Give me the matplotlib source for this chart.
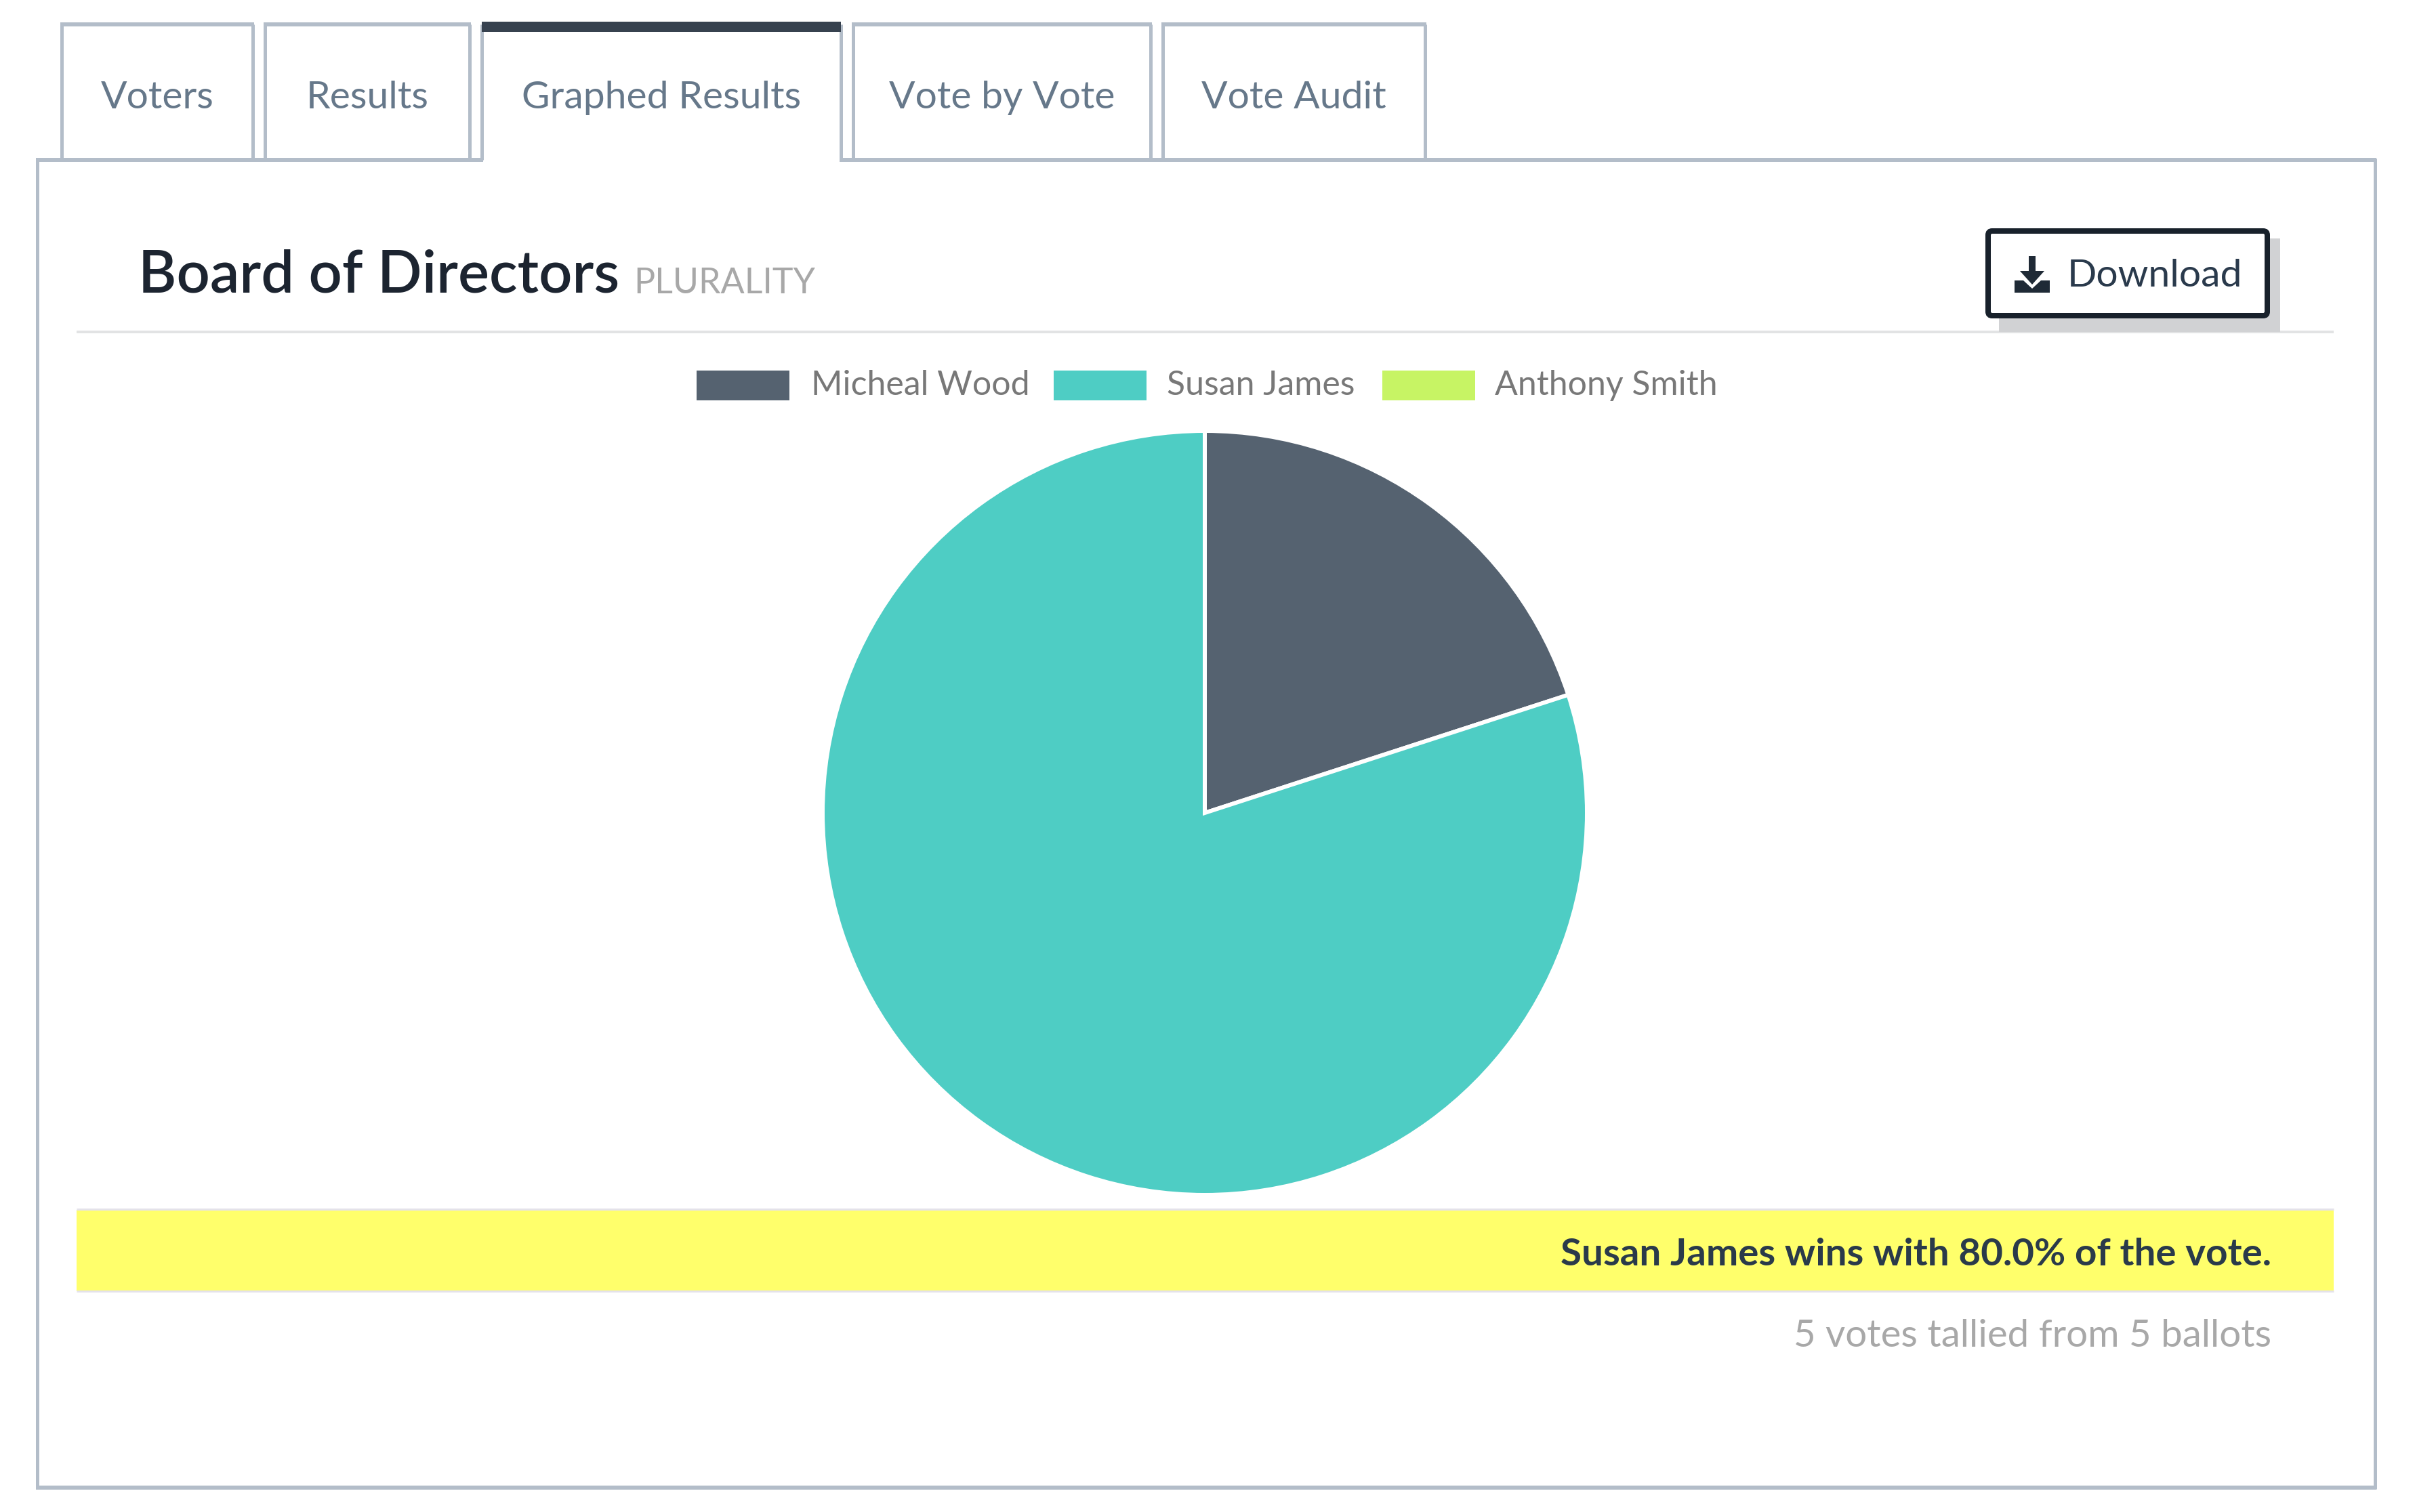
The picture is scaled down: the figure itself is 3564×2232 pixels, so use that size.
#!/usr/bin/env python3
"""
Graphed results page: plurality pie chart inside the tabbed panel
"""
import matplotlib
matplotlib.use('Agg')
import matplotlib.pyplot as plt
from matplotlib.patches import Rectangle, FancyBboxPatch, Polygon

plt.rcParams['font.family'] = ['Lato', 'DejaVu Sans']

candidates = ['Micheal Wood', 'Susan James', 'Anthony Smith']
votes = [1, 4, 0]
colors = ['#556270', '#4ECDC4', '#C7F464']

tab_names = ['Voters', 'Results', 'Graphed Results', 'Vote by Vote', 'Vote Audit']
active_tab = 'Graphed Results'
title = 'Board of Directors'
subtitle = 'PLURALITY'
button_label = 'Download'
winner_text = 'Susan James wins with 80.0% of the vote.'
tally_text = '5 votes tallied from 5 ballots'

W, H = 3564, 2232
DPI = 100
PX = 72.0 / DPI  # pixels to points

BORDER = '#B3BDC9'
TAB_TEXT = '#66788A'
DARK = '#37424F'

fig = plt.figure(figsize=(W / DPI, H / DPI), dpi=DPI, facecolor='white')
page = fig.add_axes([0, 0, 1, 1])
page.set_xlim(0, W)
page.set_ylim(H, 0)
page.axis('off')


def hline(x0, x1, y, color, lw):
    page.plot([x0, x1], [y, y], color=color, lw=lw * PX, solid_capstyle='butt', zorder=2)


def vline(x, y0, y1, color, lw):
    page.plot([x, x], [y0, y1], color=color, lw=lw * PX, solid_capstyle='butt', zorder=2)


def label(x, y, s, size, color, ha='left', weight='normal'):
    page.text(x, y, s, fontsize=size * PX, color=color, ha=ha, va='baseline',
              fontweight=weight, zorder=5)


# panel outline, the top edge is open under the active tab
tab_edges = [(91, 373), (391, 693), (711, 1241), (1259, 1698), (1716, 2103)]
tab_top, tab_bottom = 36, 236
hline(53, 713, tab_bottom, BORDER, 6)
hline(1239, 3507, tab_bottom, BORDER, 6)
vline(55, 234, 2198, BORDER, 5)
vline(3505, 234, 2198, BORDER, 5)
hline(53, 3507, 2196, BORDER, 6)

# tabs
for name, (x0, x1) in zip(tab_names, tab_edges):
    vline(x0, tab_top, tab_bottom, BORDER, 5)
    vline(x1, tab_top, tab_bottom, BORDER, 5)
    if name == active_tab:
        page.add_patch(Rectangle((x0, 32), x1 - x0, 15, fc=DARK, ec='none', zorder=3))
    else:
        hline(x0 - 2, x1 + 2, tab_top, BORDER, 6)
    label((x0 + x1) / 2, 160, name, 57, TAB_TEXT, ha='center')

# heading
label(204, 432, title, 86.5, '#1C2430', weight='semibold')
label(935, 433, subtitle, 52, '#A8A8A8')
hline(113, 3444, 490, '#E2E3E4', 4)

# download button with hard shadow
page.add_patch(Rectangle((2950, 352), 415, 138, fc='#D1D2D4', ec='none', zorder=3))
page.add_patch(FancyBboxPatch((2934, 341), 412, 125, boxstyle='round,pad=0,rounding_size=6',
                              fc='white', ec='#18212B', lw=8 * PX, zorder=4))
label(3051, 423, button_label, 57, '#2A3A4C')
page.add_patch(Polygon([(2994, 378), (3004, 378), (3004, 400), (3017, 400), (2999, 420),
                        (2981, 400), (2994, 400)], fc='#1F2A36', ec='none', zorder=5))
page.add_patch(Polygon([(2973, 414), (2986, 414), (2999, 426), (3012, 414), (3025, 414),
                        (3025, 432), (2973, 432)], fc='#1F2A36', ec='none', zorder=5))

# legend
swatch_x = [1028, 1555, 2040]
text_x = [1197, 1722, 2206]
for name, color, sx, tx in zip(candidates, colors, swatch_x, text_x):
    page.add_patch(Rectangle((sx, 547), 137, 44, fc=color, ec='none', zorder=3))
    label(tx, 583, name, 50, '#787878')

# result banner
page.add_patch(Rectangle((113, 1786), 3331, 120, fc='#FFFF6B', ec='none', zorder=1))
hline(113, 3444, 1785, '#E4E2EA', 3)
hline(113, 3444, 1906, '#E4E2EA', 3)
label(3352, 1868, winner_text, 56.5, '#2A3A4A', ha='right', weight='bold')
label(3352, 1988, tally_text, 56.5, '#A8A8A8', ha='right')

# pie
cx, cy, r = 1778, 1200, 564
pie_ax = fig.add_axes([(cx - r) / W, 1 - (cy + r) / H, 2 * r / W, 2 * r / H])
pie_ax.pie(votes, colors=colors, startangle=90, counterclock=False, radius=1,
           wedgeprops={'edgecolor': 'white', 'linewidth': 6 * PX})
pie_ax.set_xlim(-1, 1)
pie_ax.set_ylim(-1, 1)

fig.savefig('out.png', dpi=DPI, facecolor='white')
plt.close(fig)
